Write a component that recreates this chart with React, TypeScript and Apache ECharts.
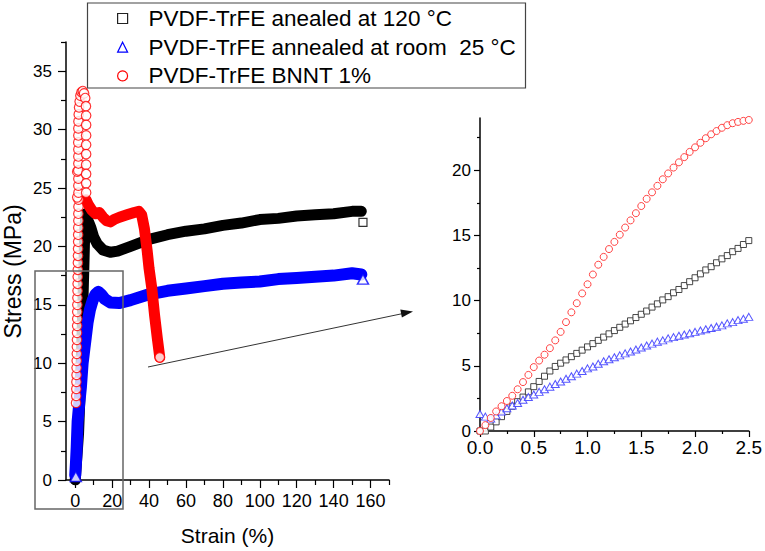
import React, { useEffect, useRef } from "react";
import * as echarts from "echarts";

// ---------- legend names ----------
const NAME_120 = "PVDF-TrFE anealed at 120 °C";
const NAME_RT = "PVDF-TrFE annealed at room  25 °C";
const NAME_BNNT = "PVDF-TrFE BNNT 1%";

// ---------- main plot: tick values ----------
const MAIN_X_LABELS = [0, 20, 40, 60, 80, 100, 120, 140, 160];
const MAIN_X_MINOR = [10, 30, 50, 70, 90, 110, 130, 150, 170];
const MAIN_Y_LABELS = [0, 5, 10, 15, 20, 25, 30, 35];
const MAIN_Y_MINOR = [2.5, 7.5, 12.5, 17.5, 22.5, 27.5, 32.5, 37.5];

// ---------- main plot: curves [strain %, stress MPa] ----------
const band120: number[][] = [
  [0, 0], [1.8, 4], [3, 9], [3.8, 13], [4.3, 16], [4.8, 19], [5.2, 21.5], [5.8, 22.8],
  [7, 22.2], [8.5, 21.6], [10, 20.8], [12, 20.2], [15, 19.7], [19, 19.5], [23, 19.6],
  [30, 20.0], [40, 20.6], [50, 21.0], [60, 21.3], [70, 21.5], [80, 21.8], [90, 22.0],
  [100, 22.3], [110, 22.4], [120, 22.6], [130, 22.7], [140, 22.8], [150, 23.0], [155, 23.0],
];
const bandRT: number[][] = [
  [0, 0.4], [0.4, 1.5], [0.8, 2.8], [1.3, 5], [2.2, 6.6], [3.1, 8], [4, 10], [5, 11.3],
  [5.7, 12.2], [6.7, 13.5], [8, 14.6], [9.5, 15.4], [11, 15.9], [12.5, 16.1], [14, 15.9],
  [16, 15.5], [19, 15.2], [24, 15.15], [30, 15.4], [40, 15.9], [50, 16.2], [60, 16.4],
  [70, 16.6], [80, 16.8], [90, 16.9], [100, 17.0], [110, 17.2], [120, 17.3], [130, 17.4],
  [140, 17.5], [150, 17.7], [155, 17.6],
];
const bandBNNT: number[][] = [
  [5.8, 24.0], [7, 23.6], [9, 23.1], [11, 22.8], [13, 22.9], [15, 22.5], [17, 22.2],
  [19, 22.1], [21, 22.3], [24, 22.5], [28, 22.7], [32, 22.9], [34.5, 23.0], [36, 22.7],
  [37.5, 21.5], [39, 19.6], [40, 18.1], [41.5, 16.4], [43, 14.1], [44.5, 12.1], [45.8, 10.5],
];
const markers120: number[][] = [[155.9, 22.05]];
const markersRT: number[][] = [[0.3, 0.3], [155.9, 17.2]];
const markersBNNT: number[][] = [
  [0.45, 6.6], [0.55, 7.2], [0.6, 7.8], [0.65, 8.4], [0.72, 9.0], [0.75, 9.6], [0.8, 10.2],
  [0.86, 10.8], [0.9, 11.4], [0.95, 12.0], [1.0, 12.6], [1.05, 13.2], [1.1, 13.8], [1.1, 14.4],
  [1.15, 15.0], [1.2, 15.6], [1.25, 16.2], [1.3, 16.8], [1.35, 17.4], [1.4, 18.0], [1.45, 18.6],
  [1.5, 19.2], [1.55, 19.8], [1.6, 20.4], [1.6, 21.0], [1.65, 21.6], [1.7, 22.2], [1.7, 22.8],
  [1.75, 23.4], [1.8, 24.0], [1.1, 24.2], [1.75, 24.6], [1.7, 25.2], [1.7, 25.8], [1.1, 26.4],
  [1.65, 26.5], [1.7, 27.1], [1.7, 27.7], [1.7, 28.3], [1.65, 28.9], [1.7, 29.5], [1.7, 30.1],
  [1.75, 30.7], [1.9, 31.3], [2.1, 31.9], [2.4, 32.4], [2.8, 32.9], [3.4, 33.2], [4.1, 33.3],
  [4.8, 33.1], [5.4, 32.7], [5.8, 32.0], [5.9, 31.2], [5.9, 30.4], [5.9, 29.5], [5.9, 28.7],
  [5.9, 27.9], [5.9, 27.0], [5.9, 26.2], [5.9, 25.4], [5.9, 24.6], [45.8, 10.5],
];

// ---------- inset: tick values ----------
const INSET_Y_LABELS = [0, 5, 10, 15, 20];
const INSET_Y_MINOR = [2.5, 7.5, 12.5, 17.5, 22.5];

// ---------- inset: curves ----------
const insetStrain = [
  0, 0.05, 0.1, 0.15, 0.2, 0.25, 0.3, 0.35, 0.4, 0.45, 0.5, 0.55, 0.6, 0.65, 0.7, 0.75, 0.8,
  0.85, 0.9, 0.95, 1.0, 1.05, 1.1, 1.15, 1.2, 1.25, 1.3, 1.35, 1.4, 1.45, 1.5, 1.55, 1.6, 1.65,
  1.7, 1.75, 1.8, 1.85, 1.9, 1.95, 2.0, 2.05, 2.1, 2.15, 2.2, 2.25, 2.3, 2.35, 2.4, 2.45, 2.5,
];
const inset120 = [
  0, 0.0, 0.3, 0.7, 1.1, 1.5, 1.9, 2.25, 2.6, 3.0, 3.4, 3.8, 4.2, 4.6, 4.95, 5.2, 5.45,
  5.7, 5.95, 6.2, 6.45, 6.7, 6.95, 7.2, 7.45, 7.7, 7.95, 8.2, 8.45, 8.7, 8.95, 9.2, 9.5, 9.75,
  10.05, 10.3, 10.6, 10.85, 11.15, 11.45, 11.75, 12.05, 12.35, 12.6, 12.9, 13.2, 13.45, 13.75, 14.0, 14.3, 14.6,
];
const insetRT = [
  1.3, 1.1, 0.95, 1.2, 1.5, 1.75, 1.95, 2.15, 2.4, 2.6, 2.8, 3.0, 3.2, 3.4, 3.6, 3.8, 4.0,
  4.2, 4.4, 4.6, 4.8, 4.95, 5.15, 5.35, 5.5, 5.65, 5.8, 5.95, 6.1, 6.25, 6.4, 6.55, 6.7, 6.85,
  6.95, 7.1, 7.2, 7.3, 7.4, 7.5, 7.6, 7.7, 7.8, 7.9, 8.0, 8.1, 8.25, 8.35, 8.5, 8.6, 8.75,
];
const insetBNNT = [
  0.0, 0.45, 1.0, 1.5, 1.9, 2.3, 2.7, 3.2, 3.75, 4.3, 4.9, 5.4, 5.85, 6.35, 6.95, 7.6, 8.35,
  9.1, 9.8, 10.55, 11.25, 12.0, 12.75, 13.35, 13.95, 14.5, 15.05, 15.6, 16.15, 16.7, 17.25, 17.8, 18.3, 18.8,
  19.3, 19.75, 20.2, 20.6, 21.0, 21.4, 21.75, 22.1, 22.45, 22.75, 23.0, 23.25, 23.45, 23.6, 23.7, 23.78, 23.85,
];

const FONT = "Arial, 'Liberation Sans', Helvetica, sans-serif";
const BLACK = "#000000";
const BLUE = "#0000ff";
const RED = "#ff0000";

export default function App() {
  const ref = useRef<HTMLDivElement>(null);

  useEffect(() => {
    if (!ref.current) return;
    const chart = echarts.init(ref.current, undefined, { renderer: "svg" });

    const pair = (ys: number[]) => insetStrain.map((x, i) => [x, ys[i]]);

    const axisLineStyle = { color: "#000", width: 1.5 };
    const tickStyle = { color: "#000", width: 1.2 };

    const option: any = {
      animation: false,
      backgroundColor: "#ffffff",
      textStyle: { fontFamily: FONT },
      grid: [
        { left: 66, top: 42, width: 323, height: 440, containLabel: false },
        { left: 480, top: 118, width: 271, height: 313, containLabel: false },
      ],
      legend: {
        orient: "vertical",
        left: 87,
        top: 4,
        padding: [3, 10, 2, 30],
        itemWidth: 10,
        itemHeight: 10,
        itemGap: 5.7,
        borderWidth: 0,
        textStyle: {
          fontFamily: FONT,
          fontSize: 22.5,
          lineHeight: 22.5,
          color: "#000",
          padding: [0, 0, 0, 16],
        },
        data: [
          { name: NAME_120, icon: "rect", itemStyle: { color: "#fff", borderColor: "#222", borderWidth: 1.2 } },
          { name: NAME_RT, icon: "triangle", itemStyle: { color: "#fff", borderColor: BLUE, borderWidth: 1.2 } },
          { name: NAME_BNNT, icon: "circle", itemStyle: { color: "#fff", borderColor: RED, borderWidth: 1.2 } },
        ],
      },
      xAxis: [
        {
          gridIndex: 0,
          type: "value",
          position: "bottom",
          min: -5,
          max: 170,
          name: "Strain (%)",
          nameLocation: "middle",
          nameGap: 45,
          nameTextStyle: { fontFamily: FONT, fontSize: 21, color: "#000" },
          axisLine: { show: true, onZero: false, lineStyle: axisLineStyle },
          axisTick: { show: true, customValues: MAIN_X_LABELS, length: 8, lineStyle: tickStyle },
          axisLabel: { customValues: MAIN_X_LABELS, fontSize: 18, color: "#000", margin: 12, fontFamily: FONT },
          splitLine: { show: false },
        },
        {
          gridIndex: 0,
          type: "value",
          position: "bottom",
          min: -5,
          max: 170,
          axisLine: { show: false, onZero: false },
          axisTick: { show: true, customValues: MAIN_X_MINOR, length: 5, lineStyle: tickStyle },
          axisLabel: { show: false },
          splitLine: { show: false },
        },
        {
          gridIndex: 1,
          type: "value",
          position: "bottom",
          min: 0,
          max: 2.5,
          interval: 0.5,
          axisLine: { show: true, onZero: false, lineStyle: axisLineStyle },
          axisTick: { show: true, length: 6, lineStyle: tickStyle },
          minorTick: { show: true, splitNumber: 2, length: 3, lineStyle: tickStyle },
          axisLabel: {
            fontSize: 19,
            color: "#000",
            margin: 7,
            fontFamily: FONT,
            formatter: (v: number) => v.toFixed(1),
          },
          splitLine: { show: false },
          minorSplitLine: { show: false },
        },
      ],
      yAxis: [
        {
          gridIndex: 0,
          type: "value",
          position: "left",
          min: 0,
          max: 37.5,
          name: "Stress (MPa)",
          nameLocation: "middle",
          nameGap: 42,
          nameRotate: 90,
          nameTextStyle: { fontFamily: FONT, fontSize: 23, color: "#000", padding: [0, 21, 0, 0] },
          axisLine: { show: true, onZero: false, lineStyle: axisLineStyle },
          axisTick: { show: true, customValues: MAIN_Y_LABELS, length: 8, lineStyle: tickStyle },
          axisLabel: { customValues: MAIN_Y_LABELS, fontSize: 17, color: "#000", margin: 14, fontFamily: FONT },
          splitLine: { show: false },
        },
        {
          gridIndex: 0,
          type: "value",
          position: "left",
          min: 0,
          max: 37.5,
          axisLine: { show: false, onZero: false },
          axisTick: { show: true, customValues: MAIN_Y_MINOR, length: 5, lineStyle: tickStyle },
          axisLabel: { show: false },
          splitLine: { show: false },
        },
        {
          gridIndex: 1,
          type: "value",
          position: "left",
          min: 0,
          max: 24,
          axisLine: { show: true, onZero: false, lineStyle: axisLineStyle },
          axisTick: { show: true, customValues: INSET_Y_LABELS, length: 6, lineStyle: tickStyle },
          axisLabel: { customValues: INSET_Y_LABELS, fontSize: 17, color: "#000", margin: 9, fontFamily: FONT },
          splitLine: { show: false },
        },
        {
          gridIndex: 1,
          type: "value",
          position: "left",
          min: 0,
          max: 24,
          axisLine: { show: false, onZero: false },
          axisTick: { show: true, customValues: INSET_Y_MINOR, length: 3, lineStyle: tickStyle },
          axisLabel: { show: false },
          splitLine: { show: false },
        },
      ],
      series: [
        // main plot bands
        {
          name: NAME_120, type: "line", xAxisIndex: 0, yAxisIndex: 0, data: band120,
          symbol: "none", lineStyle: { color: BLACK, width: 11, cap: "round", join: "round" },
          itemStyle: { color: BLACK }, z: 2, silent: true,
        },
        {
          name: NAME_RT, type: "line", xAxisIndex: 0, yAxisIndex: 0, data: bandRT,
          symbol: "none", lineStyle: { color: BLUE, width: 12, cap: "round", join: "round" },
          itemStyle: { color: BLUE }, z: 3, silent: true,
        },
        {
          name: NAME_BNNT, type: "line", xAxisIndex: 0, yAxisIndex: 0, data: bandBNNT,
          symbol: "none", lineStyle: { color: RED, width: 11, cap: "round", join: "round" },
          itemStyle: { color: RED }, z: 4, silent: true,
        },
        // main plot distinct markers
        {
          name: NAME_120, type: "scatter", xAxisIndex: 0, yAxisIndex: 0, data: markers120,
          symbol: "rect", symbolSize: 8, clip: false,
          itemStyle: { color: "#fff", borderColor: BLACK, borderWidth: 1.2 }, z: 5,
        },
        {
          name: NAME_RT, type: "scatter", xAxisIndex: 0, yAxisIndex: 0, data: markersRT,
          symbol: "triangle", symbolSize: [11, 10], clip: false,
          itemStyle: { color: "#fff", borderColor: BLUE, borderWidth: 1.5 }, z: 5,
        },
        {
          name: NAME_BNNT, type: "scatter", xAxisIndex: 0, yAxisIndex: 0, data: markersBNNT,
          symbol: "circle", symbolSize: 9.5, clip: false,
          itemStyle: { color: "#fff", borderColor: RED, borderWidth: 1.2 }, z: 6,
        },
        // inset
        {
          name: NAME_120, type: "scatter", xAxisIndex: 2, yAxisIndex: 2, data: pair(inset120),
          symbol: "rect", symbolSize: 6, clip: false,
          itemStyle: { color: "#fff", borderColor: "#333", borderWidth: 1, opacity: 0.9 }, z: 5,
        },
        {
          name: NAME_RT, type: "scatter", xAxisIndex: 2, yAxisIndex: 2, data: pair(insetRT),
          symbol: "triangle", symbolSize: [8, 7], clip: false,
          itemStyle: { color: "#fff", borderColor: "#4444ff", borderWidth: 1, opacity: 0.9 }, z: 5,
        },
        {
          name: NAME_BNNT, type: "scatter", xAxisIndex: 2, yAxisIndex: 2, data: pair(insetBNNT),
          symbol: "circle", symbolSize: 7, clip: false,
          itemStyle: { color: "#fff", borderColor: "#ff3030", borderWidth: 1, opacity: 0.9 }, z: 5,
        },
      ],
      graphic: [
        {
          type: "rect",
          shape: { x: 87.5, y: 3, width: 438, height: 85 },
          style: { fill: "none", stroke: "#444", lineWidth: 1.2 },
          z: 10,
          silent: true,
        },
        {
          type: "rect",
          shape: { x: 35, y: 271, width: 88, height: 238 },
          style: { fill: "none", stroke: "#666", lineWidth: 1.5 },
          z: 10,
          silent: true,
        },
        {
          type: "line",
          shape: { x1: 148, y1: 367, x2: 403, y2: 313.5 },
          style: { stroke: "#333", lineWidth: 1 },
          z: 10,
          silent: true,
        },
        {
          type: "polygon",
          shape: { points: [[413, 311.5], [400.3, 309.6], [401.9, 317.4]] },
          style: { fill: "#111" },
          z: 10,
          silent: true,
        },
      ],
    };

    chart.setOption(option);
    return () => chart.dispose();
  }, []);

  return (
    <div
      ref={ref}
      style={{ position: "absolute", left: 0, top: 0, width: 765, height: 551 }}
    />
  );
}
